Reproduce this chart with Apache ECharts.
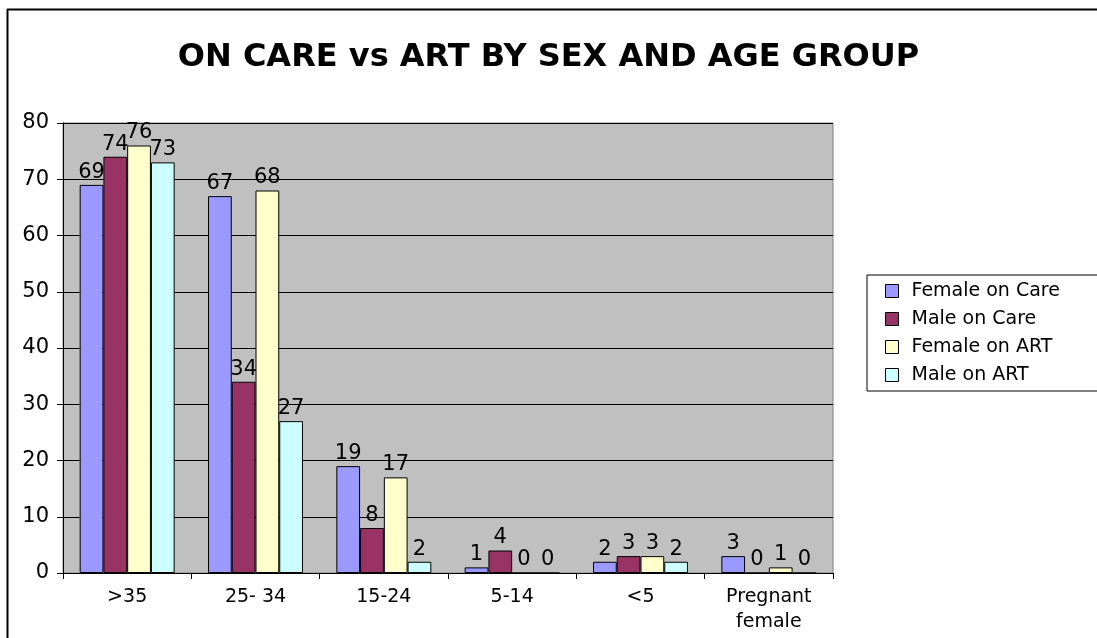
<!DOCTYPE html>
<html>
<head>
<meta charset="utf-8">
<script src="https://cdn.jsdelivr.net/npm/echarts@6/dist/echarts.min.js"></script>
<style>
html,body{margin:0;padding:0;background:#fff;}
#chart{width:1097px;height:638px;}
</style>
</head>
<body>
<div id="chart"></div>
<script>
const categories = ['>35', '25- 34', '15-24', '5-14', '<5', 'Pregnant\nfemale'];
const femaleOnCare = [69, 67, 19, 1, 2, 3];
const maleOnCare = [74, 34, 8, 4, 3, 0];
const femaleOnART = [76, 68, 17, 0, 3, 1];
const maleOnART = [73, 27, 2, 0, 2, 0];
const seriesNames = ['Female on Care', 'Male on Care', 'Female on ART', 'Male on ART'];
const seriesColors = ['#9999FF', '#993366', '#FFFFCC', '#CCFFFF'];
const seriesData = [femaleOnCare, maleOnCare, femaleOnART, maleOnART];

const FONT = 'DejaVu Sans';
const chart = echarts.init(document.getElementById('chart'), null, {renderer: 'canvas'});

const series = seriesNames.map((name, i) => ({
  name: name,
  type: 'bar',
  data: seriesData[i],
  barGap: '0%',
  barCategoryGap: '26%',
  itemStyle: {color: seriesColors[i], borderColor: '#000', borderWidth: 1},
  label: {show: true, position: 'top', distance: 2, color: '#000', fontFamily: FONT, fontSize: 21},
  emphasis: {disabled: true}
}));

chart.setOption({
  animation: false,
  backgroundColor: '#fff',
  title: {
    text: 'ON CARE vs ART BY SEX AND AGE GROUP',
    left: 'center',
    top: 37,
    textStyle: {fontFamily: FONT, fontWeight: 'bold', fontSize: 32, color: '#000'}
  },
  graphic: [
    {type: 'line', shape: {x1: 7, y1: 9.5, x2: 1097, y2: 9.5}, style: {stroke: '#000', lineWidth: 2}},
    {type: 'line', shape: {x1: 7.5, y1: 9, x2: 7.5, y2: 638}, style: {stroke: '#000', lineWidth: 2}}
  ],
  legend: {
    orient: 'vertical',
    left: 867,
    top: 275,
    padding: [6, 40, 6, 18],
    itemGap: 8,
    itemWidth: 13,
    itemHeight: 13,
    icon: 'rect',
    borderColor: '#000',
    borderWidth: 1,
    backgroundColor: '#fff',
    textStyle: {fontFamily: FONT, fontSize: 19, color: '#000', lineHeight: 20, padding: [0, 0, 0, 8]},
    itemStyle: {borderColor: '#000', borderWidth: 1},
    data: seriesNames
  },
  grid: {
    left: 63, right: 264, top: 123, bottom: 65,
    show: true, backgroundColor: '#C0C0C0', borderColor: '#808080', borderWidth: 1,
    containLabel: false
  },
  xAxis: {
    type: 'category',
    data: categories,
    axisLine: {show: true, lineStyle: {color: '#000', width: 1}},
    axisTick: {show: true, length: 6, lineStyle: {color: '#000'}},
    axisLabel: {color: '#000', fontFamily: FONT, fontSize: 19, lineHeight: 25, margin: 12, interval: 0}
  },
  yAxis: {
    type: 'value',
    min: 0, max: 80, interval: 10,
    axisLine: {show: true, lineStyle: {color: '#000', width: 1}},
    axisTick: {show: true, length: 6, lineStyle: {color: '#000'}},
    axisLabel: {color: '#000', fontFamily: FONT, fontSize: 21, margin: 14},
    splitLine: {show: true, lineStyle: {color: '#000', width: 1}}
  },
  series: series
});
</script>
</body>
</html>
